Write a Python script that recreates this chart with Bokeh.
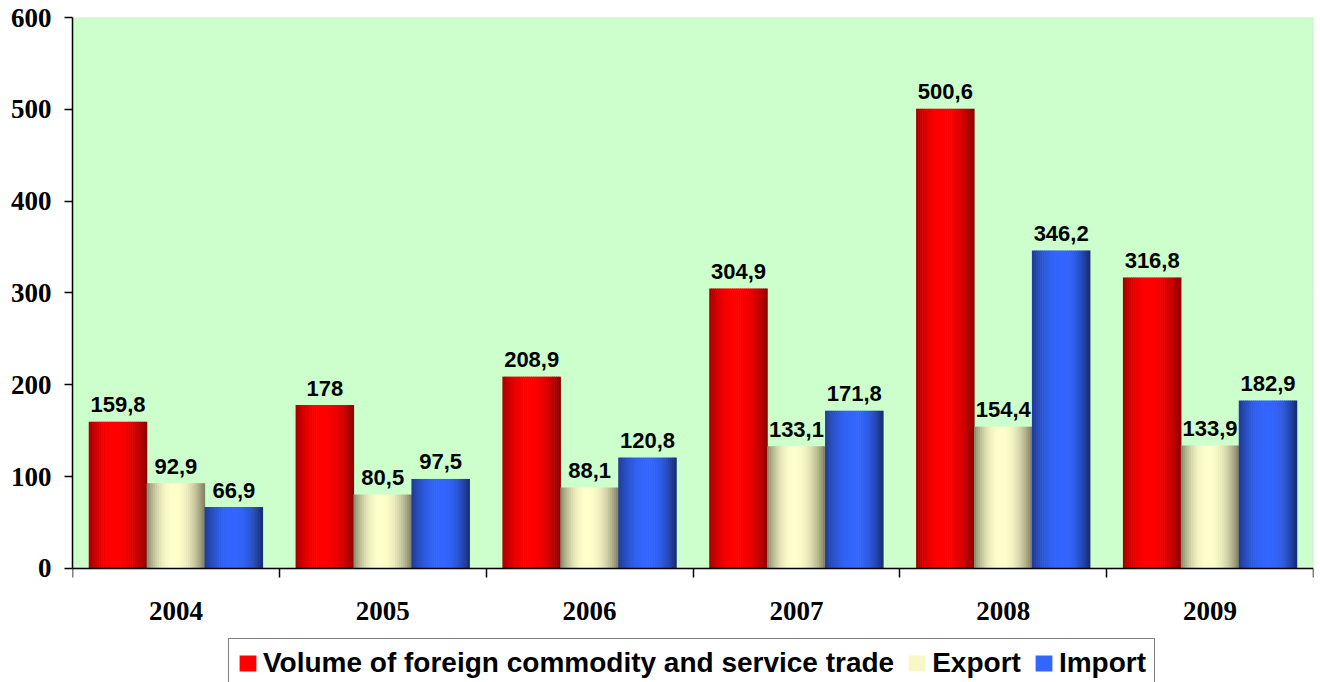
from bokeh.plotting import figure
from bokeh.models import (Range1d, FixedTicker, Legend, LegendItem, ColumnDataSource,
                          LinearAxis, BoxAnnotation)
from bokeh.core.properties import value
from bokeh.embed import file_html
from bokeh.resources import INLINE

# ---- data ----
years = ["2004", "2005", "2006", "2007", "2008", "2009"]
volume = [159.8, 178, 208.9, 304.9, 500.6, 316.8]
export = [92.9, 80.5, 88.1, 133.1, 154.4, 133.9]
imports = [66.9, 97.5, 120.8, 171.8, 346.2, 182.9]
series_names = ["Volume of foreign commodity and service trade", "Export", "Import"]
y_ticks = [0, 100, 200, 300, 400, 500, 600]

series_values = [volume, export, imports]

# ---- styling ----
offsets = [-0.28, 0.0, 0.28]
bar_w = 0.28
N = 28
# (left edge, centre, right edge, peak position)
gradients = [
    ((0xA0, 0x00, 0x00), (0xFF, 0x00, 0x00), (0x8B, 0x00, 0x00), 0.45),
    ((0x85, 0x85, 0x68), (0xFF, 0xFF, 0xCC), (0x7D, 0x7D, 0x60), 0.47),
    ((0x1F, 0x3A, 0x8F), (0x33, 0x66, 0xFF), (0x16, 0x2B, 0x6B), 0.52),
]
legend_strip = [10, 9, 13]   # strip whose colour is shown in the legend swatch


def strip_colors(edge_l, center, edge_r, peak):
    cols = []
    for k in range(N):
        t = (k + 0.5) / N
        if t < peak:
            d = (peak - t) / peak
            edge = edge_l
        else:
            d = (t - peak) / (1 - peak)
            edge = edge_r
        f = 1 - d ** 2.2
        c = tuple(int(round(e + (cc - e) * f)) for e, cc in zip(edge, center))
        cols.append("#%02x%02x%02x" % c)
    return cols


# frame spans down to the bottom of the page; the category axis sits at y=0
y_min = -124.15
p = figure(width=1316, height=682, output_backend="svg", toolbar_location=None,
           x_range=Range1d(0.5, 6.5), y_range=Range1d(y_min, 600),
           x_axis_location=None,
           min_border_left=72, min_border_right=3, min_border_top=17,
           min_border_bottom=0)

p.background_fill_color = "white"
p.border_fill_color = "white"
p.outline_line_color = None
for g in p.xgrid:
    g.visible = False

plot_area = BoxAnnotation(bottom=0, top=600, fill_color="#CCFFCC", fill_alpha=1.0,
                          line_color="#C0C0C0", line_width=2, level="underlay")
p.add_layout(plot_area)

for g in p.ygrid:
    g.ticker = FixedTicker(ticks=y_ticks[1:])
    g.grid_line_color = "#C0C0C0"
    g.grid_line_width = 1

legend_items = []
for s, vals in enumerate(series_values):
    cols = strip_colors(*gradients[s])
    xs, tops, cs = [], [], []
    for i, v in enumerate(vals):
        center = i + 1 + offsets[s]
        for k in range(N):
            xs.append(center - bar_w / 2 + (k + 0.5) * bar_w / N)
            tops.append(v)
            cs.append(cols[k])
    src = ColumnDataSource(dict(x=xs, top=tops, color=cs))
    r = p.vbar(x="x", top="top", bottom=0, width=bar_w / N * 1.3, fill_color="color",
               line_color=None, source=src)
    legend_items.append(LegendItem(label=series_names[s], renderers=[r],
                                   index=legend_strip[s]))

# value labels
for s, vals in enumerate(series_values):
    lx = [i + 1 + offsets[s] for i in range(len(vals))]
    labels = [("%g" % v).replace(".", ",") for v in vals]
    src = ColumnDataSource(dict(x=lx, y=vals, t=labels))
    p.text(x="x", y="y", text="t", source=src, text_font=value("Liberation Sans"),
           text_font_style="bold", text_font_size="22px", text_align="center",
           text_baseline="alphabetic", y_offset=-17, text_color="black")

# y axis
ya = p.yaxis[0]
ya.ticker = FixedTicker(ticks=y_ticks, minor_ticks=[])
ya.bounds = (0, 600)
ya.axis_line_color = "black"
ya.axis_line_width = 1.5
ya.major_tick_line_color = "black"
ya.major_tick_line_width = 1.5
ya.major_tick_out = 8
ya.major_tick_in = 0
ya.minor_tick_out = 0
ya.minor_tick_in = 0
ya.major_label_text_font = "Liberation Serif"
ya.major_label_text_font_style = "bold"
ya.major_label_text_font_size = "27px"
ya.major_label_text_color = "black"
ya.major_label_standoff = 13

# x axis (category axis fixed at y = 0)
xa = LinearAxis(fixed_location=0)
xa.ticker = FixedTicker(ticks=[i + 1 for i in range(len(years))],
                        minor_ticks=[i + 0.5 for i in range(len(years) + 1)])
xa.major_label_overrides = {i + 1: years[i] for i in range(len(years))}
xa.axis_line_color = "black"
xa.axis_line_width = 1.5
xa.major_tick_out = 0
xa.major_tick_in = 0
xa.minor_tick_out = 9
xa.minor_tick_in = 0
xa.minor_tick_line_color = "black"
xa.minor_tick_line_width = 1.5
xa.major_label_text_font = "Liberation Serif"
xa.major_label_text_font_style = "bold"
xa.major_label_text_font_size = "27px"
xa.major_label_text_color = "black"
xa.major_label_standoff = 25
p.add_layout(xa, "below")

legend = Legend(items=legend_items, orientation="horizontal", location=(156, -6),
                label_text_font="Liberation Sans", label_text_font_style="bold",
                label_text_font_size="28px", label_text_color="black",
                glyph_width=21, glyph_height=20, label_standoff=5, spacing=12,
                padding=8, margin=0, border_line_color="black", border_line_width=1,
                background_fill_color="white", background_fill_alpha=1.0)
p.add_layout(legend, "center")

open("out.html", "w").write(file_html(p, INLINE))
